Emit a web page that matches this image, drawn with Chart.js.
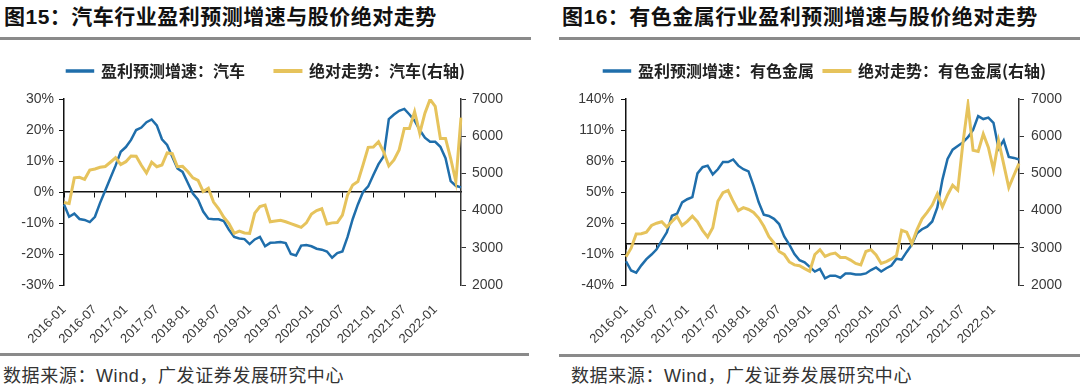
<!DOCTYPE html>
<html>
<head>
<meta charset="utf-8">
<title>盈利预测增速与股价绝对走势</title>
<script src="https://cdn.jsdelivr.net/npm/chart.js@4.4.1/dist/chart.umd.min.js"></script>
<style>
  body {
    margin: 0;
    width: 1080px;
    height: 385px;
    position: relative;
    overflow: hidden;
    background: #fff;
    font-family: "Liberation Sans", "Noto Sans CJK SC", sans-serif;
  }
  .title {
    position: absolute;
    top: 5px;
    line-height: 24px;
    font-size: 21px;
    letter-spacing: 0.5px;
    font-weight: bold;
    color: #111;
    white-space: nowrap;
  }
  .rule {
    position: absolute;
    height: 3px;
    background: #8a8a8a;
  }
  .source {
    position: absolute;
    top: 366px;
    line-height: 20px;
    font-size: 18px;
    letter-spacing: 0.6px;
    color: #333;
    white-space: nowrap;
  }
  .box {
    position: absolute;
    top: 33px;
    width: 540px;
    height: 317px;
  }
</style>
</head>
<body>

<div class="title" style="left:4px">图15：汽车行业盈利预测增速与股价绝对走势</div>
<div class="rule" style="left:0;width:531px;top:37px"></div>
<div class="box" style="left:0"><canvas id="carChart" width="540" height="317"></canvas></div>
<div class="rule" style="left:0;width:529px;top:353px"></div>
<div class="source" style="left:3px">数据来源：Wind，广发证券发展研究中心</div>

<div class="title" style="left:562px">图16：有色金属行业盈利预测增速与股价绝对走势</div>
<div class="rule" style="left:559px;width:521px;top:37px"></div>
<div class="box" style="left:540px"><canvas id="metalChart" width="540" height="317"></canvas></div>
<div class="rule" style="left:559px;width:521px;top:354px"></div>
<div class="source" style="left:571px">数据来源：Wind，广发证券发展研究中心</div>

<script>
// months 2016-01 .. 2022-06
const months = [
  '2016-01','2016-02','2016-03','2016-04','2016-05','2016-06','2016-07','2016-08','2016-09','2016-10','2016-11','2016-12',
  '2017-01','2017-02','2017-03','2017-04','2017-05','2017-06','2017-07','2017-08','2017-09','2017-10','2017-11','2017-12',
  '2018-01','2018-02','2018-03','2018-04','2018-05','2018-06','2018-07','2018-08','2018-09','2018-10','2018-11','2018-12',
  '2019-01','2019-02','2019-03','2019-04','2019-05','2019-06','2019-07','2019-08','2019-09','2019-10','2019-11','2019-12',
  '2020-01','2020-02','2020-03','2020-04','2020-05','2020-06','2020-07','2020-08','2020-09','2020-10','2020-11','2020-12',
  '2021-01','2021-02','2021-03','2021-04','2021-05','2021-06','2021-07','2021-08','2021-09','2021-10','2021-11','2021-12',
  '2022-01','2022-02','2022-03','2022-04','2022-05','2022-06'
];

// 图15 汽车
const carGrowth = [
  -4, -8, -7, -8.7, -9, -9.7, -8, -3.5, 0.5, 4.5,
  8.5, 13, 14.5, 16.8, 20, 20.8, 22.5, 23.4, 21.5, 17,
  15.2, 11.4, 7.6, 6.5, 3, -0.5, -2.5, -6.3, -8.6, -8.8,
  -8.8, -9.4, -12.2, -14.5, -15, -15.2, -16.8, -15.3, -14.5, -17.5,
  -16.4, -16.3, -16.1, -16.5, -20, -20.5, -17.3, -17.1, -17.5, -18.3,
  -18.6, -19.2, -21.2, -19.7, -19.2, -14.5, -8.7, -4, 0, 1.8,
  5.5, 9, 11.5, 23.5, 25, 26.2, 26.8, 25, 23, 20,
  17.5, 16.2, 16.2, 14.6, 10.9, 3.5, 2, 1.5
];
const carPrice = [
  4220, 4190, 4880, 4895, 4840, 5090, 5120, 5165, 5185, 5300,
  5420, 5240, 5315, 5468, 5460, 5220, 5010, 5300, 5180, 5226,
  5550, 5530, 5180, 5190, 5050, 4880, 4810, 4510, 4600, 4230,
  4050, 3820, 3650, 3390, 3450, 3400, 3390, 3930, 4110, 4150,
  3700, 3720, 3740, 3700, 3650, 3600, 3550, 3670, 3910, 4000,
  4050, 3640, 3670, 3680, 3880, 4420, 4690, 4780, 5230, 5700,
  5710, 5850, 5580, 5200, 5360, 5630, 6210, 6210, 6660, 6080,
  6620, 6990, 6800, 5940, 5940, 5400, 4780, 6500
];
const carPctTicks = [-30, -20, -10, 0, 10, 20, 30];

// 图16 有色金属
const metalGrowth = [
  -17, -26, -28, -21, -15, -10.5, -5.5, 3, 11, 27,
  29, 40, 43, 45, 68, 74, 75.5, 67, 72, 79,
  79, 81.5, 75.5, 72, 70, 56, 40, 28, 26.8, 24,
  19, 7, -1, -10, -16, -18, -22.5, -27, -24.5, -33.5,
  -31, -31, -33, -28.8, -28.8, -29.8, -29.8, -28.8, -25.5, -23,
  -27, -23.8, -21.2, -14.5, -15.5, -8, -1, 10, 14, 16.5,
  21.5, 35, 62, 82, 91, 94.5, 98, 103, 110, 123.5,
  120.6, 122, 117, 92, 100, 84, 83, 81.5
];
const metalPrice = [
  2760, 2990, 3370, 3380, 3420, 3600, 3660, 3700, 3560, 3710,
  3840, 3600, 3710, 3850, 3700, 3470, 3290, 3540, 4250, 4480,
  4540, 4250, 4000, 4080, 4030, 3950, 3800, 3580, 3300, 3130,
  2900, 2820, 2620, 2540, 2520, 2440, 2370, 2820, 2950, 2770,
  2830, 2860, 2740, 2740, 2670, 2580, 2540, 2900, 2950, 2810,
  2580, 2630, 2700, 2790, 3470, 3420, 3110, 3480, 3780, 3950,
  4150, 4450, 4100, 4420, 4680, 4550, 5800, 6850, 5620, 5590,
  6060, 5700, 5100, 5880, 5250, 4620, 4950, 5260
];
const metalPctTicks = [-40, -10, 20, 50, 80, 110, 140];

const priceTicks = [2000, 3000, 4000, 5000, 6000, 7000];

const BLUE = '#1f6eab';
const YELLOW = '#e6c35c';
const AXIS = '#111';
const TICK_TEXT = '#3a3a3a';

// push the plot area down a little below the legend
const legendGap = {
  id: 'legendGap',
  beforeInit(chart) {
    const fit = chart.legend.fit;
    chart.legend.fit = function () {
      fit.call(this);
      this.height += 10;
    };
  }
};

function makeChart(canvasId, o) {
  const ctx = document.getElementById(canvasId).getContext('2d');
  return new Chart(ctx, {
    type: 'line',
    data: {
      labels: months,
      datasets: [
        {
          label: o.growthLabel,
          data: o.growth,
          yAxisID: 'y',
          borderColor: BLUE,
          backgroundColor: BLUE,
          borderWidth: 2.5,
          pointRadius: 0,
          tension: 0,
          order: 2
        },
        {
          label: o.priceLabel,
          data: o.price,
          yAxisID: 'y1',
          borderColor: YELLOW,
          backgroundColor: YELLOW,
          borderWidth: 3,
          pointRadius: 0,
          tension: 0,
          order: 1
        }
      ]
    },
    options: {
      responsive: false,
      animation: false,
      devicePixelRatio: 1,
      layout: { padding: o.padding },
      plugins: {
        tooltip: { enabled: false },
        legend: {
          display: true,
          position: 'top',
          labels: {
            boxWidth: 26,
            boxHeight: 1,
            padding: o.legendPad,
            color: '#222',
            font: { family: '"Noto Sans CJK SC", sans-serif', size: 16, weight: 'bold' },
            sort: (a, b) => a.datasetIndex - b.datasetIndex
          }
        }
      },
      scales: {
        x: {
          type: 'category',
          position: 'bottom',
          grid: { display: false, drawTicks: false },
          border: { display: false },
          ticks: {
            autoSkip: false,
            minRotation: 45,
            maxRotation: 45,
            padding: 17,
            color: TICK_TEXT,
            font: { family: '"Liberation Sans", Arial, sans-serif', size: 13 },
            callback: function (value, index) {
              return index % 6 === 0 ? this.getLabelForValue(value) : '';
            }
          },
          afterFit: (scale) => { scale.height = 65; }
        },
        // axis line drawn through 0% with half-year tick marks
        x0: {
          type: 'category',
          position: { y: 0 },
          grid: {
            drawOnChartArea: false,
            drawTicks: true,
            tickLength: 5,
            lineWidth: 1,
            color: (c) => (c.index % 6 === 0 ? AXIS : 'rgba(0,0,0,0)')
          },
          border: { display: true, color: AXIS, width: 1.5 },
          ticks: { display: false, autoSkip: false }
        },
        y: {
          position: 'left',
          min: o.pctTicks[0],
          max: o.pctTicks[o.pctTicks.length - 1],
          grid: { drawOnChartArea: false, drawTicks: true, tickLength: 5, color: AXIS, lineWidth: 1 },
          border: { display: true, color: AXIS, width: 1.5 },
          ticks: {
            stepSize: o.pctTicks[1] - o.pctTicks[0],
            padding: o.leftTickPad,
            color: TICK_TEXT,
            font: { family: '"Liberation Sans", Arial, sans-serif', size: 14 },
            callback: (v) => v + '%'
          },
          afterFit: (scale) => { scale.width = o.leftWidth; }
        },
        y1: {
          position: 'right',
          min: priceTicks[0],
          max: priceTicks[priceTicks.length - 1],
          grid: { drawOnChartArea: false, drawTicks: true, tickLength: 5, color: '#333', lineWidth: 1 },
          border: { display: true, color: '#333', width: 1.5 },
          ticks: {
            stepSize: priceTicks[1] - priceTicks[0],
            padding: o.rightTickPad,
            color: TICK_TEXT,
            font: { family: '"Liberation Sans", Arial, sans-serif', size: 14 },
            callback: (v) => String(v)
          },
          afterFit: (scale) => { scale.width = o.rightWidth; }
        }
      }
    },
    plugins: [legendGap]
  });
}

makeChart('carChart', {
  growthLabel: '盈利预测增速：汽车',
  priceLabel: '绝对走势：汽车(右轴)',
  growth: carGrowth,
  price: carPrice,
  pctTicks: carPctTicks,
  padding: { top: 0, left: 0, right: 8, bottom: 0 },
  legendPad: 30,
  leftWidth: 64,
  rightWidth: 71,
  leftTickPad: 5,
  rightTickPad: 6
});

makeChart('metalChart', {
  growthLabel: '盈利预测增速：有色金属',
  priceLabel: '绝对走势：有色金属(右轴)',
  growth: metalGrowth,
  price: metalPrice,
  pctTicks: metalPctTicks,
  padding: { top: 20, left: 30, right: 0, bottom: 0 },
  legendPad: 10,
  leftWidth: 56,
  rightWidth: 61,
  leftTickPad: 7,
  rightTickPad: 7
});
</script>
</body>
</html>
